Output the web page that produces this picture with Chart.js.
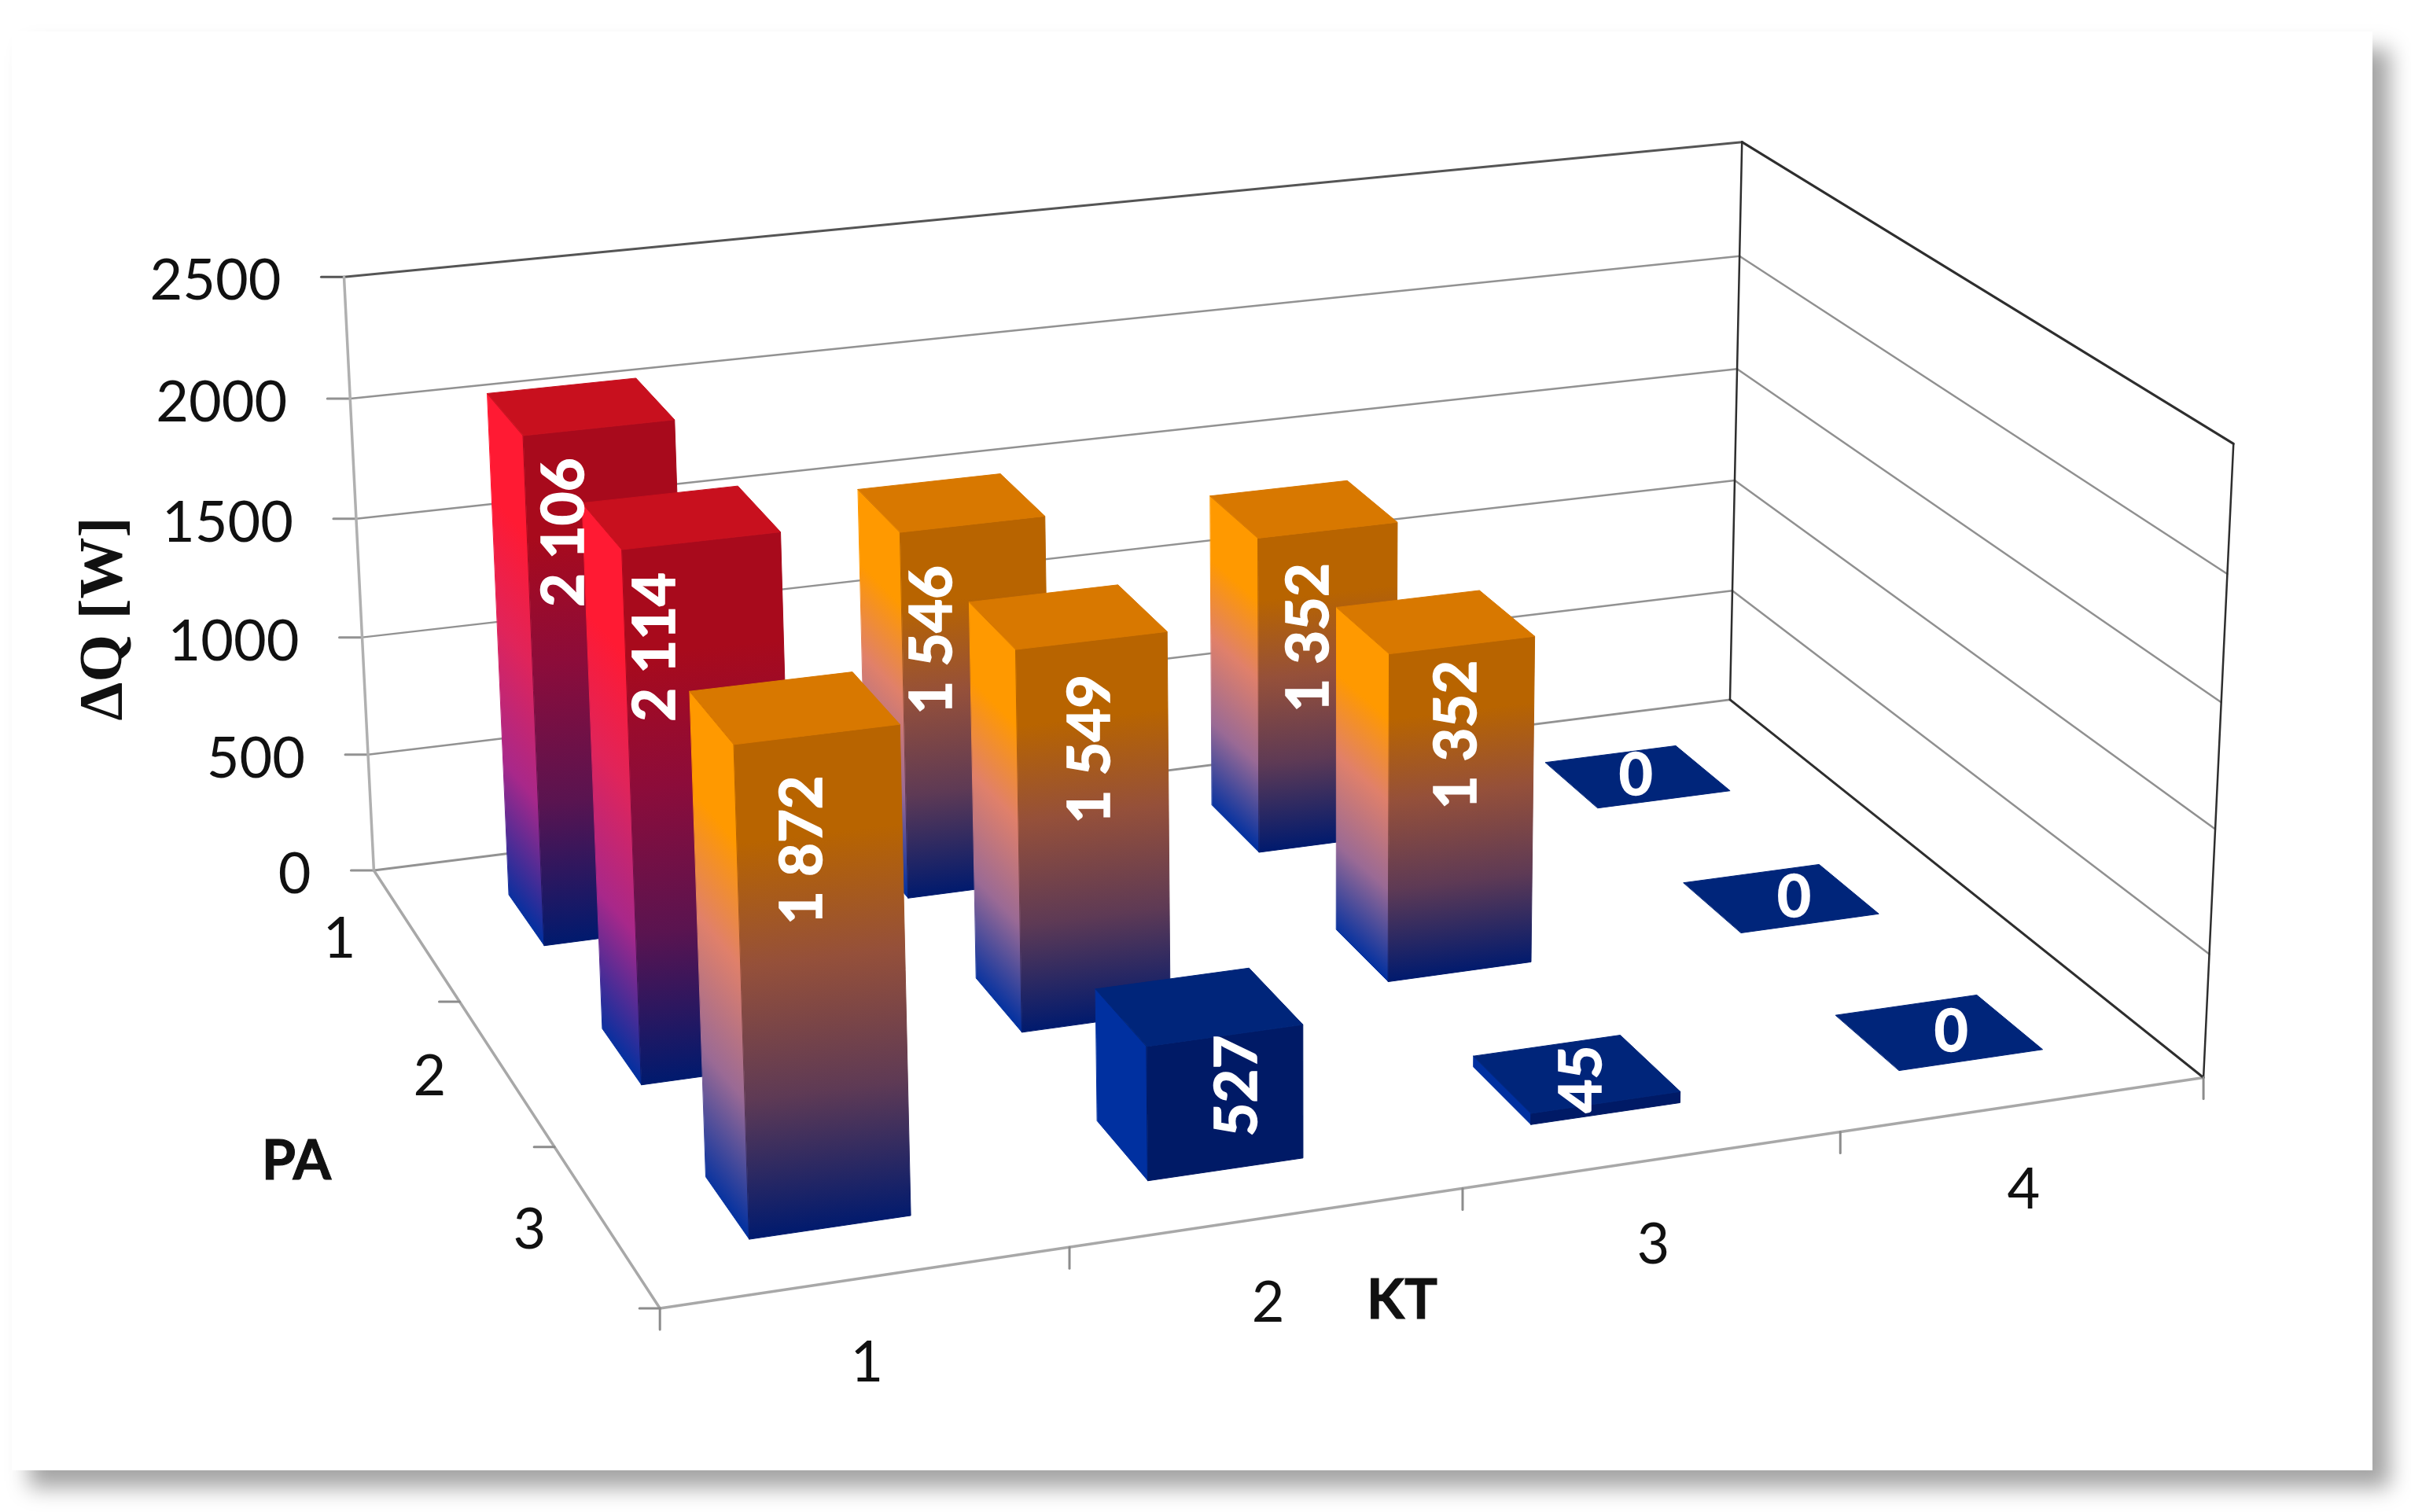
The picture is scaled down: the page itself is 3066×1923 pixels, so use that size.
<!DOCTYPE html>
<html>
<head>
<meta charset="utf-8">
<title>dQ</title>
<script src="https://cdn.jsdelivr.net/npm/chart.js@4"></script>
<style>
  html, body { margin: 0; padding: 0; background: #fff; }
  canvas { display: block; }
</style>
</head>
<body>
<canvas id="chart3d" width="3066" height="1923"></canvas>
<script>
var ktLabels = ['1', '2', '3', '4'];
var paLabels = ['1', '2', '3'];
var pa1Values = [2106, 1546, 1352, 0];
var pa2Values = [2114, 1549, 1352, 0];
var pa3Values = [1872, 527, 45, 0];
var yMax = 2500;
var yStep = 500;

// where the label sits on each bar: share of the bar height, and a sideways nudge in pixels
var labelLevels = [[0.755, 0.625, 0.59, 0], [0.76, 0.655, 0.655, 0], [0.714, 0.405, 0.5, 0]];
var labelNudges = [[-26, -27, 8, -2], [-37, 27, 29, 17], [6, 49, 8, 16]];

// the plot box as it appears on the page: box x, box depth, box height -> pixel
var boxFrame = [
  [0, 0, 0, 475, 1104], [1, 0, 0, 2200, 891], [0, 1, 0, 840, 1666], [1, 1, 0, 2802, 1370],
  [0, 0, 1, 437, 354], [1, 0, 1, 2216, 180], [1, 1, 1, 2842, 564],
  [0, 0, 0.4, 460, 810], [1, 0, 0.4, 2207, 613], [0, 0, 0.8, 446, 507], [1, 0, 0.8, 2211, 325], [1, 1, 0.8, 2830, 729]
];

var barWidth = 0.40;
var barDepth = 0.39;

var palette = {
  red: { top: '#c8101e', front: ['#a80a1c', '#8c0c3a', '#5a1450', '#001a6e'], side: ['#ff1a33', '#e0245a', '#a8288a', '#0030a0'] },
  orange: { top: '#d87800', front: ['#b86400', '#95503a', '#5e3a55', '#001a6e'], side: ['#ff9900', '#e0806a', '#9a6a95', '#0030a0'] },
  blue: { top: '#00257a', front: ['#001a66', '#001a66', '#001a66', '#001a66'], side: ['#0030a0', '#0030a0', '#0030a0', '#0030a0'] }
};

function bandOf(v) {
  if (v >= 2000) return palette.red;
  if (v >= 1000) return palette.orange;
  return palette.blue;
}

function formatValue(v) {
  return String(v).replace(/\B(?=(\d{3})+$)/g, ' ');
}

// least squares fit of the camera matrix from boxFrame
function fitCamera(frame) {
  var rows = [];
  frame.forEach(function(f) {
    var X = f[0], Y = f[1], Z = f[2], u = f[3] / 1000, v = f[4] / 1000;
    rows.push([X, Y, Z, 1, 0, 0, 0, 0, -u * X, -u * Y, -u * Z, u]);
    rows.push([0, 0, 0, 0, X, Y, Z, 1, -v * X, -v * Y, -v * Z, v]);
  });
  var n = 11, A = [];
  for (var i = 0; i < n; i++) {
    A[i] = [];
    for (var j = 0; j <= n; j++) {
      var s = 0;
      rows.forEach(function(r) { s += r[i] * r[j]; });
      A[i][j] = s;
    }
  }
  for (var c = 0; c < n; c++) {
    var piv = c;
    for (var r = c + 1; r < n; r++) if (Math.abs(A[r][c]) > Math.abs(A[piv][c])) piv = r;
    var t = A[c]; A[c] = A[piv]; A[piv] = t;
    for (var r2 = 0; r2 < n; r2++) {
      if (r2 === c) continue;
      var m = A[r2][c] / A[c][c];
      for (var k = c; k <= n; k++) A[r2][k] -= m * A[c][k];
    }
  }
  return A.map(function(row, idx) { return row[n] / row[idx]; });
}
var cam = fitCamera(boxFrame);

function project(x, d, z) {
  var w = cam[8] * x + cam[9] * d + cam[10] * z + 1;
  return {
    x: 1000 * (cam[0] * x + cam[1] * d + cam[2] * z + cam[3]) / w,
    y: 1000 * (cam[4] * x + cam[5] * d + cam[6] * z + cam[7]) / w
  };
}

function decimal(scale, v) {
  return scale.getDecimalForPixel(scale.getPixelForValue(v));
}

function line(ctx, a, b, color, width) {
  ctx.strokeStyle = color;
  ctx.lineWidth = width;
  ctx.beginPath();
  ctx.moveTo(a.x, a.y);
  ctx.lineTo(b.x, b.y);
  ctx.stroke();
}

function poly(ctx, pts, fill) {
  ctx.fillStyle = fill;
  ctx.strokeStyle = fill;
  ctx.lineWidth = 1;
  ctx.beginPath();
  pts.forEach(function(p, i) { if (i) ctx.lineTo(p.x, p.y); else ctx.moveTo(p.x, p.y); });
  ctx.closePath();
  ctx.fill();
  ctx.stroke();
}

// vertical colour run whose bands follow the slope of the face's top edge
function faceGradient(ctx, a, b, bottom, stops) {
  var nx = -(b.y - a.y), ny = b.x - a.x;
  var t = ((bottom.x - a.x) * nx + (bottom.y - a.y) * ny) / (nx * nx + ny * ny);
  var g = ctx.createLinearGradient(a.x, a.y, a.x + nx * t, a.y + ny * t);
  g.addColorStop(0, stops[0]);
  g.addColorStop(0.2, stops[0]);
  g.addColorStop(0.45, stops[1]);
  g.addColorStop(0.72, stops[2]);
  g.addColorStop(1, stops[3]);
  return g;
}

function text(ctx, str, x, y, font, color, rotated, thicken) {
  ctx.save();
  ctx.translate(x, y);
  if (rotated) ctx.rotate(-Math.PI / 2);
  ctx.font = font;
  ctx.fillStyle = color;
  ctx.textAlign = 'center';
  ctx.textBaseline = 'middle';
  ctx.fillText(str, 0, 0);
  if (thicken) {
    ctx.strokeStyle = color;
    ctx.lineWidth = thicken;
    ctx.strokeText(str, 0, 0);
  }
  ctx.restore();
}

var frameBackdrop = {
  id: 'frameBackdrop',
  beforeDraw: function(chart) {
    var ctx = chart.ctx;
    ctx.save();
    ctx.fillStyle = '#fff';
    ctx.fillRect(0, 0, 3066, 1923);
    ctx.shadowColor = '#a4a4a4';
    ctx.shadowBlur = 26;
    ctx.shadowOffsetX = 22;
    ctx.shadowOffsetY = 22;
    ctx.fillRect(15, 40, 3002, 1830);
    ctx.restore();
  }
};

var box3d = {
  id: 'box3d',
  afterDatasetsDraw: function(chart) {
    var ctx = chart.ctx;
    var xs = chart.scales.x, ys = chart.scales.y, ps = chart.scales.pa;
    var grid = '#929292', edge = '#2e2e2e';
    ctx.save();
    ctx.lineCap = 'round';

    // walls
    ys.ticks.forEach(function(tick) {
      var z = decimal(ys, tick.value);
      var a = project(0, 0, z), b = project(1, 0, z), c = project(1, 1, z);
      var top = tick.value === yMax;
      if (tick.value > 0) {
        line(ctx, a, b, top ? '#555' : grid, top ? 3 : 2.5);
        line(ctx, b, c, top ? edge : '#909090', top ? 3 : 2.5);
      } else {
        line(ctx, a, b, grid, 3);
      }
      line(ctx, a, { x: a.x - 29, y: a.y }, top ? '#555' : grid, 3);
      ctx.font = '72px Lato';
      ctx.fillStyle = '#111';
      ctx.textAlign = 'right';
      ctx.textBaseline = 'middle';
      ctx.fillText(tick.label, a.x - 80, a.y + 6);
    });
    line(ctx, project(0, 0, 0), project(0, 0, 1), '#b0b0b0', 3.5);
    line(ctx, project(1, 0, 0), project(1, 0, 1), edge, 2.5);
    line(ctx, project(1, 1, 0), project(1, 1, 1), edge, 2.5);

    // floor edges and the ticks on them
    line(ctx, project(0, 0, 0), project(0, 1, 0), '#a8a8a8', 3.5);
    line(ctx, project(0, 1, 0), project(1, 1, 0), '#a8a8a8', 3.5);
    line(ctx, project(1, 0, 0), project(1, 1, 0), edge, 3);
    paLabels.forEach(function(lab, i) {
      var edgePt = project(0, (i + 1) / paLabels.length, 0);
      line(ctx, edgePt, { x: edgePt.x - 26, y: edgePt.y }, '#8c8c8c', 3);
      var mid = project(0, decimal(ps, i), 0);
      text(ctx, lab, mid.x - 97, mid.y + 6, '72px Lato', '#111', false);
    });
    line(ctx, project(0, 1, 0), { x: project(0, 1, 0).x, y: project(0, 1, 0).y + 27 }, '#8c8c8c', 3);
    ktLabels.forEach(function(lab, i) {
      var edgePt = project((i + 1) / ktLabels.length, 1, 0);
      line(ctx, edgePt, { x: edgePt.x, y: edgePt.y + 27 }, '#8c8c8c', 3);
      var mid = project(decimal(xs, i), 1, 0);
      text(ctx, lab, mid.x, mid.y + 109, '72px Lato', '#111', false);
    });

    // bars, far row first, right column first
    var queue = [];
    chart.data.datasets.forEach(function(ds, row) {
      ds.data.forEach(function(v, col) { queue.push({ row: row, col: col, v: v }); });
    });
    queue.sort(function(p, q) { return p.row - q.row || q.col - p.col; });
    queue.forEach(function(b) {
      var cx = decimal(xs, b.col), cd = decimal(ps, b.row), h = decimal(ys, b.v);
      var hw = barWidth / ktLabels.length / 2, hd = barDepth / paLabels.length / 2;
      var x0 = cx - hw, x1 = cx + hw, d0 = cd - hd, d1 = cd + hd;
      var col = bandOf(b.v);
      var tbl = project(x0, d0, h), tbr = project(x1, d0, h), tfl = project(x0, d1, h), tfr = project(x1, d1, h);
      var bbl = project(x0, d0, 0), bfl = project(x0, d1, 0), bfr = project(x1, d1, 0);
      if (h > 0) {
        poly(ctx, [tbl, tfl, bfl, bbl], faceGradient(ctx, tbl, tfl, bfl, col.side));
        poly(ctx, [tfl, tfr, bfr, bfl], faceGradient(ctx, tfl, tfr, bfl, col.front));
      }
      poly(ctx, [tbl, tbr, tfr, tfl], col.top);
    });

    // value labels go on last so no bar covers them
    queue.forEach(function(b) {
      var p = project(decimal(xs, b.col), decimal(ps, b.row), decimal(ys, b.v) * labelLevels[b.row][b.col]);
      text(ctx, formatValue(b.v), p.x + labelNudges[b.row][b.col], p.y, 'bold 74px Lato', '#fff', b.v > 0, 1.5);
    });

    // axis titles
    text(ctx, '\u0394Q [W]', 134, 787, 'bold 78px "Liberation Serif"', '#111', true);
    text(ctx, 'PA', 377, 1477, 'bold 70px Lato', '#111', false, 1);
    text(ctx, 'KT', 1783, 1654, 'bold 70px Lato', '#111', false, 1);
    ctx.restore();
  }
};

var chart = new Chart(document.getElementById('chart3d').getContext('2d'), {
  type: 'bar',
  data: {
    labels: ktLabels,
    datasets: [
      { label: 'PA 1', data: pa1Values, backgroundColor: 'transparent' },
      { label: 'PA 2', data: pa2Values, backgroundColor: 'transparent' },
      { label: 'PA 3', data: pa3Values, backgroundColor: 'transparent' }
    ]
  },
  options: {
    responsive: false,
    animation: false,
    plugins: { legend: { display: false }, tooltip: { enabled: false } },
    scales: {
      x: { display: false },
      y: { display: false, min: 0, max: yMax, ticks: { stepSize: yStep, callback: function(v) { return String(v); } } },
      pa: { type: 'category', axis: 'y', labels: paLabels, offset: true, reverse: true, display: false }
    }
  },
  plugins: [frameBackdrop, box3d]
});
</script>
</body>
</html>
